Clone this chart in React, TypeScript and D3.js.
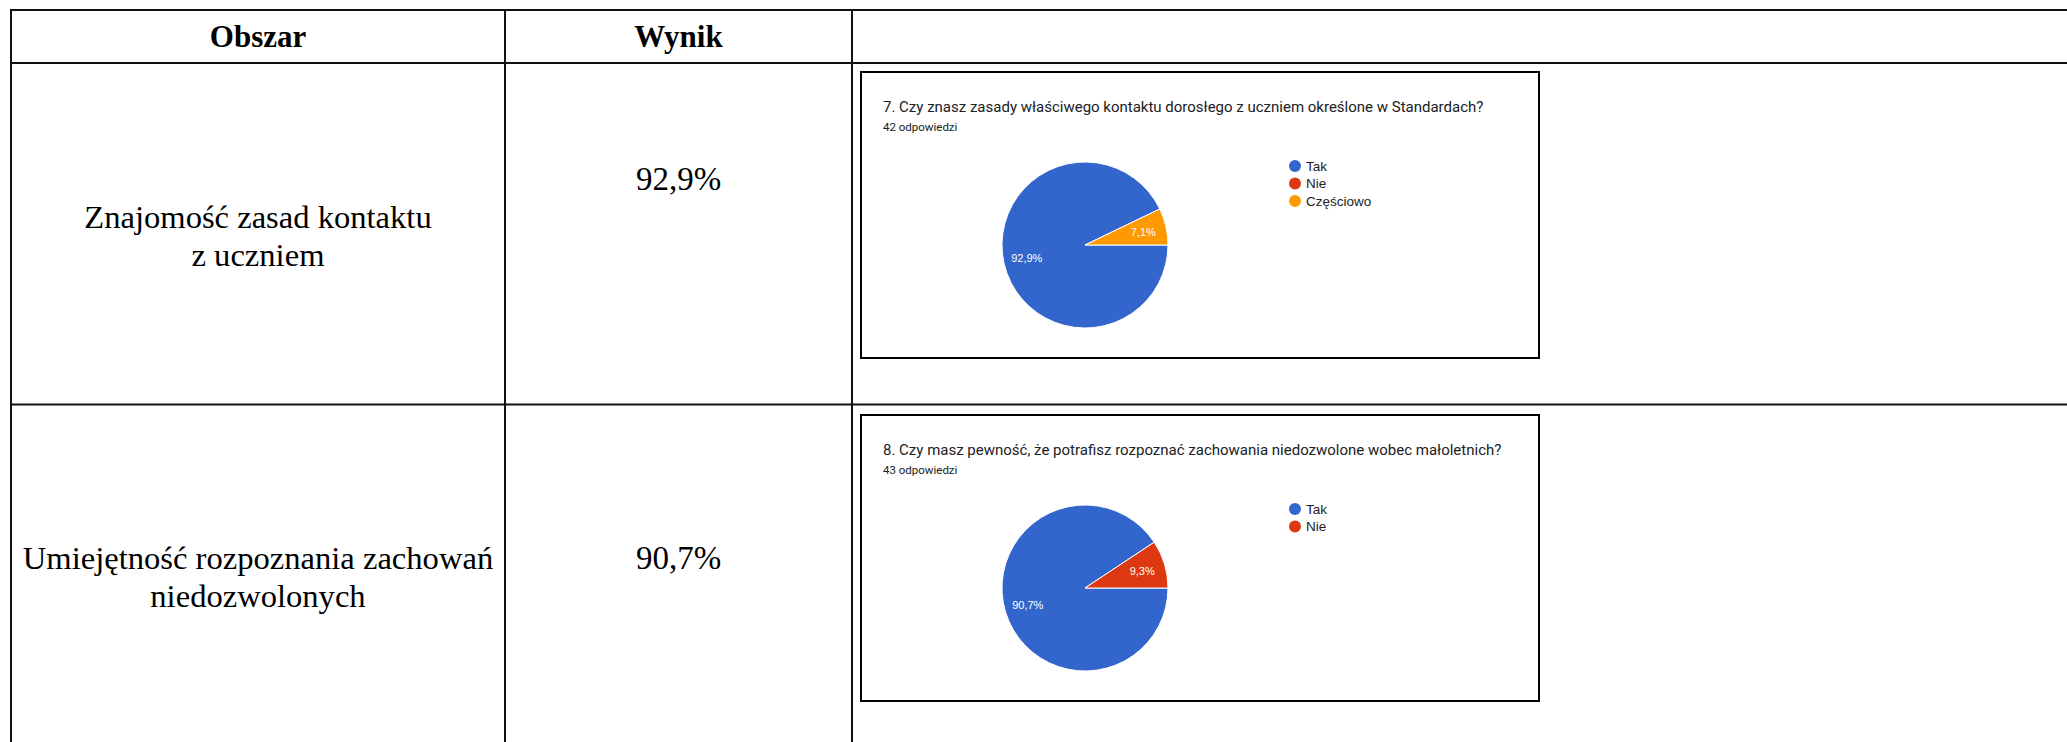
import React from "react";
import * as d3 from "d3";

const headers = ["Obszar", "Wynik"];
const areaLines = [
  ["Znajomość zasad kontaktu", "z uczniem"],
  ["Umiejętność rozpoznania zachowań", "niedozwolonych"],
];
const results = ["92,9%", "90,7%"];
const questions = [
  "7. Czy znasz zasady właściwego kontaktu dorosłego z uczniem określone w Standardach?",
  "8. Czy masz pewność, że potrafisz rozpoznać zachowania niedozwolone wobec małoletnich?",
];
const responses = [42, 43];
const q7Labels = ["Tak", "Nie", "Częściowo"];
const q7Values = [39, 0, 3];
const q8Labels = ["Tak", "Nie"];
const q8Values = [39, 4];
const sliceColors = ["#3366cc", "#dc3912", "#ff9900"];

const W = 2067;
const H = 742;
const colX = [11, 505, 852];
const rowY = [10, 63, 404.5];
const boxes = [
  { x: 861, y: 72, w: 678, h: 286 },
  { x: 861, y: 415, w: 678, h: 286 },
];

function PieBlock({ box, title, count, labels, values }: any) {
  const total = d3.sum(values as number[]);
  const pie = d3
    .pie<number>()
    .sort(null)
    .value((d) => d)
    .startAngle(Math.PI / 2)
    .endAngle(Math.PI / 2 + 2 * Math.PI);
  const arcs = pie(values);
  const r = 83;
  const arc = d3.arc<d3.PieArcDatum<number>>().innerRadius(0).outerRadius(r);
  const labelArc = d3.arc<d3.PieArcDatum<number>>().innerRadius(r * 0.72).outerRadius(r * 0.72);
  const cx = box.x + 224;
  const cy = box.y + 173;
  const fmt = (v: number) => ((v / total) * 100).toFixed(1).replace(".", ",") + "%";
  return (
    <g>
      <rect x={box.x} y={box.y} width={box.w} height={box.h} fill="#fff" stroke="#000" strokeWidth={2} />
      <text x={box.x + 22} y={box.y + 40} fontFamily="Roboto, Arial, sans-serif" fontSize={15} fill="#202124">
        {title}
      </text>
      <text x={box.x + 22} y={box.y + 59} fontFamily="Roboto, Arial, sans-serif" fontSize={11.5} fill="#202124">
        {count} odpowiedzi
      </text>
      <g transform={`translate(${cx},${cy})`}>
        {arcs.map((a, i) =>
          a.value > 0 ? (
            <path key={i} d={arc(a) || ""} fill={sliceColors[i]} stroke="#fff" strokeWidth={1} />
          ) : null
        )}
        {arcs.map((a, i) => {
          if (a.value <= 0) return null;
          const [lx, ly] = labelArc.centroid(a);
          return (
            <text
              key={"l" + i}
              x={lx}
              y={ly}
              dy="0.35em"
              textAnchor="middle"
              fontFamily="Arial, 'Liberation Sans', sans-serif"
              fontSize={11}
              fill="#fff"
            >
              {fmt(a.value)}
            </text>
          );
        })}
      </g>
      {labels.map((l: string, i: number) => (
        <g key={"lg" + i} transform={`translate(${box.x + 434},${box.y + 94 + i * 17.5})`}>
          <circle r={6} fill={sliceColors[i]} />
          <text x={11} dy="0.35em" fontFamily="Arial, 'Liberation Sans', sans-serif" fontSize={13.5} fill="#222">
            {l}
          </text>
        </g>
      ))}
    </g>
  );
}

export default function App() {
  React.useEffect(() => {
    document.body.style.margin = "0";
    document.body.style.overflow = "hidden";
  }, []);
  const serif = "'Liberation Serif', 'Times New Roman', serif";
  const lineStroke = "#111";
  return (
    <svg width={W} height={H} style={{ position: "absolute", left: 0, top: 0, background: "#fff" }}>
      <rect x={0} y={0} width={W} height={H} fill="#fff" />
      {rowY.map((y, i) => (
        <line key={"h" + i} x1={colX[0] - 1} x2={W} y1={y} y2={y} stroke={lineStroke} strokeWidth={2} />
      ))}
      {colX.map((x, i) => (
        <line key={"v" + i} x1={x} x2={x} y1={rowY[0] - 1} y2={H} stroke={lineStroke} strokeWidth={2} />
      ))}
      {headers.map((h, i) => (
        <text
          key={"hd" + i}
          x={(colX[i] + colX[i + 1]) / 2}
          y={47}
          textAnchor="middle"
          fontFamily={serif}
          fontWeight="bold"
          fontSize={31}
          fill="#000"
        >
          {h}
        </text>
      ))}
      {areaLines.map((lines, r) =>
        lines.map((t, j) => (
          <text
            key={"a" + r + j}
            x={(colX[0] + colX[1]) / 2}
            y={(r === 0 ? 228 : 569) + j * 38}
            textAnchor="middle"
            fontFamily={serif}
            fontSize={32.6}
            fill="#000"
          >
            {t}
          </text>
        ))
      )}
      {results.map((t, r) => (
        <text
          key={"r" + r}
          x={(colX[1] + colX[2]) / 2}
          y={r === 0 ? 190 : 569}
          textAnchor="middle"
          fontFamily={serif}
          fontSize={33}
          fill="#000"
        >
          {t}
        </text>
      ))}
      <PieBlock box={boxes[0]} title={questions[0]} count={responses[0]} labels={q7Labels} values={q7Values} />
      <PieBlock box={boxes[1]} title={questions[1]} count={responses[1]} labels={q8Labels} values={q8Values} />
    </svg>
  );
}
